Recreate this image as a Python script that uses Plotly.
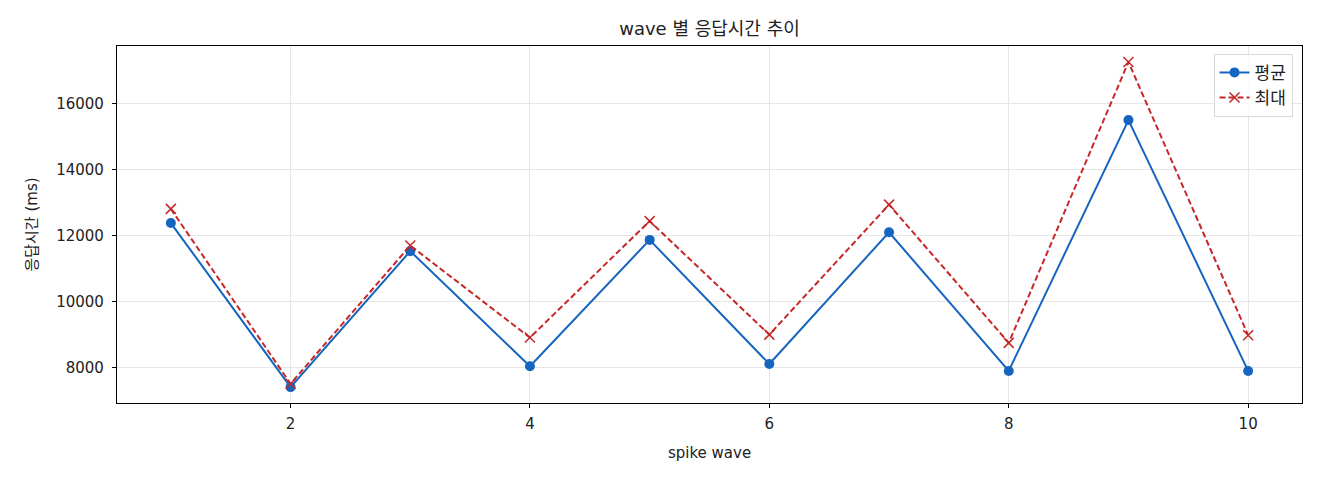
import plotly.graph_objects as go

waves = [1, 2, 3, 4, 5, 6, 7, 8, 9, 10]
avg_ms = [12370, 7400, 11520, 8030, 11860, 8100, 12090, 7890, 15490, 7890]
max_ms = [12800, 7500, 11690, 8900, 12430, 8990, 12930, 8740, 17250, 8970]

x_ticks = [2, 4, 6, 8, 10]
y_ticks = [8000, 10000, 12000, 14000, 16000]

FONT = "DejaVu Sans, Noto Sans CJK KR, sans-serif"
BLUE = "#1565C0"
RED = "#C62828"

fig = go.Figure()
fig.add_trace(go.Scatter(
    x=waves, y=avg_ms, name="평균", mode="lines+markers",
    line=dict(color=BLUE, width=2),
    marker=dict(symbol="circle", size=10, color=BLUE),
))
fig.add_trace(go.Scatter(
    x=waves, y=max_ms, name="최대", mode="lines+markers",
    line=dict(color=RED, width=2, dash="6px,3px"),
    marker=dict(symbol="x-thin", size=10, color=RED, line=dict(color=RED, width=1.5)),
))

fig.update_layout(
    width=1320, height=480,
    margin=dict(l=109, r=26, t=38, b=85),
    paper_bgcolor="white", plot_bgcolor="white",
    font=dict(family=FONT, size=15, color="#222"),
    title=dict(text="wave 별 응답시간 추이", x=0.5, xanchor="center",
               y=0.956, yanchor="middle", yref="container",
               xref="paper", font=dict(size=18, color="#222")),
    showlegend=True,
    legend=dict(x=0.992, y=0.978, xanchor="right", yanchor="top",
                bgcolor="rgba(255,255,255,0.8)", bordercolor="#d8d8d8", borderwidth=1,
                font=dict(size=17), tracegroupgap=4),
)
fig.update_xaxes(
    range=[0.55, 10.45], tickvals=x_ticks, ticktext=[str(v) for v in x_ticks],
    showgrid=True, gridcolor="#e6e6e6", gridwidth=1,
    showline=True, linecolor="black", linewidth=1.2, mirror=True,
    ticks="outside", ticklen=4, tickcolor="black", ticklabelstandoff=3,
    zeroline=False,
    title=dict(text="spike wave", font=dict(size=15), standoff=15),
)
fig.update_yaxes(
    range=[6918, 17736], tickvals=y_ticks, ticktext=[str(v) for v in y_ticks],
    showgrid=True, gridcolor="#e6e6e6", gridwidth=1,
    showline=True, linecolor="black", linewidth=1.2, mirror=True,
    ticks="outside", ticklen=4, tickcolor="black", ticklabelstandoff=5,
    zeroline=False,
    title=dict(text="응답시간 (ms)", font=dict(size=15), standoff=14),
)

fig.write_html("out.html")
